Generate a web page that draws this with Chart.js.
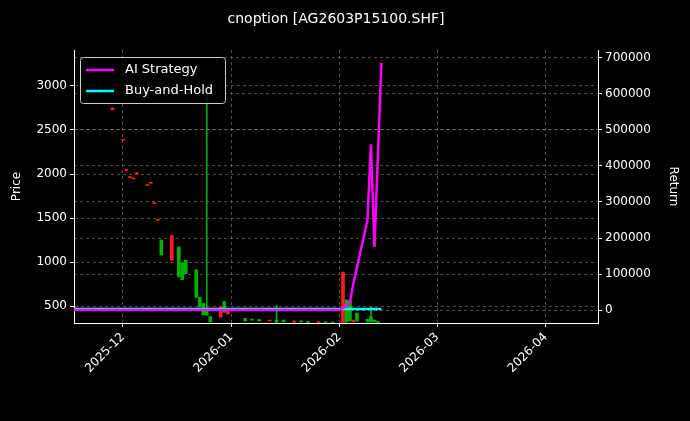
<!DOCTYPE html>
<html><head><meta charset="utf-8">
<script src="https://cdn.jsdelivr.net/npm/chart.js@4"></script>
<style>html,body{margin:0;background:#000;}</style>
</head><body>
<canvas id="c" width="690" height="421"></canvas>
<script>
const candleDates = ["2025-11-28","2025-12-01","2025-12-02","2025-12-03","2025-12-04","2025-12-05","2025-12-08","2025-12-09","2025-12-10","2025-12-11","2025-12-12","2025-12-15","2025-12-17","2025-12-18","2025-12-19","2025-12-22","2025-12-23","2025-12-24","2025-12-25","2025-12-26","2025-12-29","2025-12-30","2025-12-31","2026-01-05","2026-01-07","2026-01-09","2026-01-12","2026-01-14","2026-01-16","2026-01-19","2026-01-21","2026-01-23","2026-01-26","2026-01-28","2026-01-30","2026-02-02","2026-02-03","2026-02-04","2026-02-05","2026-02-06","2026-02-09","2026-02-10","2026-02-11","2026-02-12"];
const openP  = [2750,2395,2050,1970,1955,2015,1880,1905,1675,1485,1080,1300,830,800,870,600,490,400,400,320,490,430,440,330,340,330,340,320,320,330,320,315,320,312,310,885,320,330,340,330,320,320,320,315];
const highP  = [2750,2395,2050,1970,1955,2015,1880,1905,1675,1485,1250,1300,1170,990,1020,910,600,530,2920,380,490,550,440,360,350,345,340,510,340,330,330,325,320,320,318,885,570,560,340,420,350,490,340,325];
const lowP   = [2730,2385,2040,1960,1945,2005,1870,1895,1665,1475,1080,1020,830,800,870,600,490,400,390,320,375,430,410,330,340,330,330,310,320,315,320,315,310,312,310,308,320,330,320,330,320,320,320,315];
const closeP = [2730,2385,2040,1960,1945,2005,1870,1895,1665,1475,1250,1020,1170,990,1020,910,600,530,460,380,375,550,410,360,350,345,330,340,340,315,330,325,310,320,318,310,570,560,320,420,350,380,340,325];
const lineDates = ["2025-11-17","2026-02-01","2026-02-02","2026-02-04","2026-02-05","2026-02-09","2026-02-10","2026-02-11","2026-02-13"];
const aiReturn  = [0,0,5000,20000,75000,250000,460000,175000,686000];
const bhDates = ["2025-11-17","2026-02-13"];
const bhReturn = [3000,3000];
const xTickDates = ["2025-12-01","2026-01-01","2026-02-01","2026-03-01","2026-04-01"];
const xTickLabels = ["2025-12","2026-01","2026-02","2026-03","2026-04"];

const base = Date.UTC(2025,11,1);
const day = s => { const [y,m,d]=s.split('-').map(Number); return (Date.UTC(y,m-1,d)-base)/86400000; };
const xTicks = xTickDates.map(day);
const col = candleDates.map((d,i)=> closeP[i]>=openP[i] ? '#00b000' : '#ff1a1a');

const wick = candleDates.map((d,i)=>({x:day(d), y:[lowP[i],highP[i]]}));
const body = candleDates.map((d,i)=>{let a=openP[i],b=closeP[i]; if(Math.abs(a-b)<8){b=a-8;} return {x:day(d), y:[a,b]};});

const legendPlugin = {id:'lg', afterDraw(ch){
  const c=ch.ctx; const a=ch.chartArea;
  c.save();
  c.font='14px "DejaVu Sans"'; c.fillStyle='#fff'; c.textAlign='center'; c.textBaseline='middle';
  c.fillText('cnoption [AG2603P15100.SHF]', 336, 19);
  const bx=a.left+6, by=a.top+7, bw=145, bh=46;
  c.fillStyle='rgba(0,0,0,0.8)'; c.strokeStyle='#ccc'; c.lineWidth=1;
  c.beginPath(); c.roundRect(bx+0.5,by+0.5,bw,bh,3); c.fill(); c.stroke();
  const items=[['AI Strategy','#ff00ff'],['Buy-and-Hold','#00ffff']];
  c.textAlign='left'; c.font='13px "DejaVu Sans"';
  items.forEach((it,k)=>{const y=by+13+k*21; c.strokeStyle=it[1]; c.lineWidth=2.5;
    c.beginPath(); c.moveTo(bx+6,y); c.lineTo(bx+34,y); c.stroke();
    c.fillStyle='#fff'; c.fillText(it[0],bx+45,y);});
  c.restore();
}};

const gridCol='rgba(140,140,140,0.55)';
Chart.defaults.font.family='"DejaVu Sans"';
Chart.defaults.color='#fff';
new Chart(document.getElementById('c'),{
  type:'bar',
  data:{datasets:[
    {type:'line',label:'AI Strategy',data:lineDates.map((d,i)=>({x:day(d),y:aiReturn[i]})),yAxisID:'y2',borderColor:'#ff00ff',borderWidth:2.5,pointRadius:0,order:0},
    {type:'line',label:'Buy-and-Hold',data:bhDates.map((d,i)=>({x:day(d),y:bhReturn[i]})),yAxisID:'y2',borderColor:'#00ffff',borderWidth:2.5,pointRadius:0,order:1},
    {label:'wick',data:wick,yAxisID:'y',backgroundColor:col,barThickness:1,grouped:false,order:3},
    {label:'body',data:body,yAxisID:'y',backgroundColor:col,barThickness:3,grouped:false,order:2}
  ]},
  options:{responsive:false,animation:false,
    layout:{padding:{top:50,left:6,right:6}},
    plugins:{legend:{display:false},tooltip:{enabled:false}},
    scales:{
      x:{type:'linear',min:-14,max:136,offset:false,
        afterBuildTicks(ax){ax.ticks=xTicks.map(v=>({value:v}));},
        afterFit(ax){ax.height=98;},
        ticks:{maxRotation:45,minRotation:45,font:{size:12},color:'#fff',callback:(v)=>xTickLabels[xTicks.indexOf(v)]},
        grid:{offset:false,color:gridCol,tickColor:'#fff',tickLength:4},
        border:{color:'#fff',dash:[3,3]}},
      y:{position:'left',min:307,max:3409,
        afterBuildTicks(ax){ax.ticks=[500,1000,1500,2000,2500,3000].map(v=>({value:v}));},
        afterFit(ax){ax.width=68;},
        title:{display:true,text:'Price',color:'#fff',font:{size:12}},
        ticks:{font:{size:12},color:'#fff',callback:v=>String(v)},
        grid:{color:gridCol,tickColor:'#fff',tickLength:4},
        border:{color:'#fff',dash:[3,3]}},
      y2:{position:'right',min:-36000,max:722000,
        afterBuildTicks(ax){ax.ticks=[0,100000,200000,300000,400000,500000,600000,700000].map(v=>({value:v}));},
        afterFit(ax){ax.width=86;},
        title:{display:true,text:'Return',color:'#fff',font:{size:12}},
        ticks:{font:{size:12},color:'#fff',callback:v=>String(v)},
        grid:{color:gridCol,tickColor:'#fff',tickLength:4},
        border:{color:'#fff',dash:[3,3]}}
    }
  },
  plugins:[legendPlugin]
});
</script>
</body></html>
